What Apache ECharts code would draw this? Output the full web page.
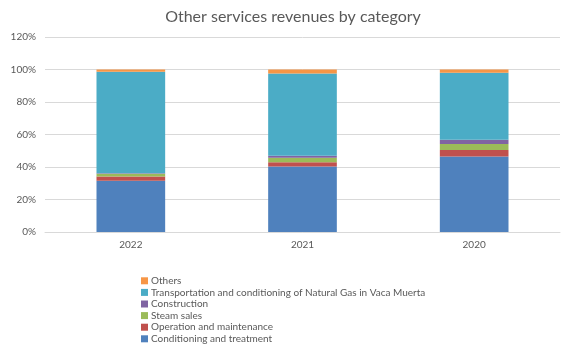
<!DOCTYPE html>
<html><head><meta charset="utf-8">
<script src="https://cdn.jsdelivr.net/npm/echarts@6/dist/echarts.min.js"></script>
<style>html,body{margin:0;padding:0;background:#fff}#c{width:586px;height:358px}</style>
</head><body><div id="c"></div>
<script>
const categories = ['2022', '2021', '2020'];
const conditioning = [31.5, 40.3, 46.5];
const operation = [2.6, 2.7, 3.9];
const steam = [1.7, 2.7, 3.7];
const construction = [0.3, 1.2, 2.7];
const transport = [62.5, 50.6, 41.2];
const others = [1.4, 2.5, 2.0];
const yTicks = [0, 20, 40, 60, 80, 100, 120];

const names = ['Conditioning and treatment','Operation and maintenance','Steam sales','Construction','Transportation and conditioning of Natural Gas in Vaca Muerta','Others'];
const colors = ['#4F81BD','#C0504D','#9BBB59','#8064A2','#4BACC6','#F79646'];
const vals = [conditioning, operation, steam, construction, transport, others];
const FONT = 'Lato';
const chart = echarts.init(document.getElementById('c'));
chart.setOption({
  animation: false,
  textStyle: {fontFamily: FONT},
  title: {text: 'Other services revenues by category', left: 'center', top: 4,
    textStyle: {fontFamily: FONT, fontSize: 16, fontWeight: 'normal', color: '#595959'}},
  grid: {left: 45, right: 26, top: 37, bottom: 126},
  legend: {orient: 'vertical', left: 141, top: 275, height: 120, padding: 0, itemWidth: 7, itemHeight: 7, itemGap: 0,
    icon: 'rect', data: names.slice().reverse(),
    textStyle: {fontFamily: FONT, fontSize: 10, lineHeight: 11.6, color: '#595959', padding: [0,0,0,-2]}},
  xAxis: {type: 'category', data: categories,
    axisLine: {lineStyle: {color: '#D9D9D9'}}, axisTick: {show: false},
    axisLabel: {color: '#595959', fontSize: 10, margin: 8}},
  yAxis: {type: 'value', min: 0, max: 120, interval: 20,
    axisLabel: {formatter: '{value}%', color: '#595959', fontSize: 10, margin: 9},
    splitLine: {lineStyle: {color: '#D9D9D9'}}},
  series: names.map((n, i) => ({name: n, type: 'bar', stack: 'a', data: vals[i],
    barWidth: '40%', itemStyle: {color: colors[i]}}))
});
</script></body></html>
